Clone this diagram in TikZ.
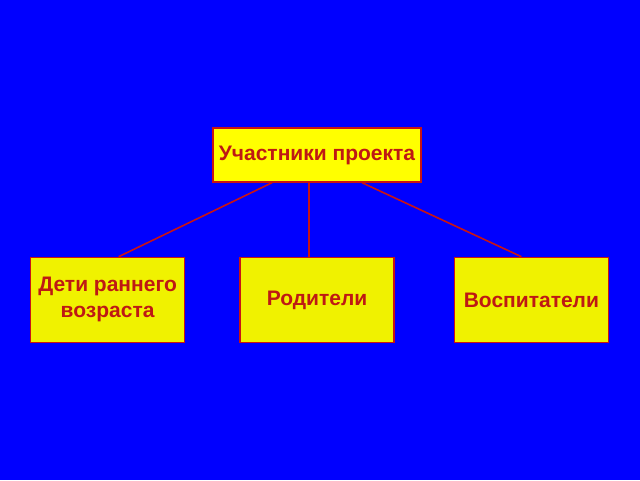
\documentclass[tikz,border=0pt]{standalone}
\usepackage{fontspec}
\setmainfont{Liberation Sans}
\usetikzlibrary{positioning}
\definecolor{bgblue}{RGB}{0,0,255}
\definecolor{boxyellow}{RGB}{255,255,0}
\definecolor{lowyellow}{RGB}{240,242,0}
\definecolor{edgered}{RGB}{200,20,20}
\definecolor{textred}{RGB}{190,25,20}

\begin{document}
\begin{tikzpicture}
            [
            box/.style={rectangle, draw=edgered, line width=1.4pt, fill=#1,
                text=textred, font=\fontsize{21}{26}\selectfont\bfseries,
                align=center, minimum width=154pt, minimum height=85pt},
            link/.style={draw=edgered, line width=1.6pt}
            ]

            \fill [bgblue] (0pt,0pt) rectangle (640pt,-480pt);
            \useasboundingbox (0pt,0pt) rectangle (640pt,-480pt);

            \node (top) at (317pt,-155pt) [box=boxyellow, minimum width=208pt,
                minimum height=54pt] {Участники проекта};
            \node (parents) [below=74pt of top, box=lowyellow] {Родители};
            \node (kids) [left=54pt of parents, box=lowyellow] {Дети раннего\\ возраста};
            \node (teachers) [right=59pt of parents, box=lowyellow] {Воспитатели};

            % link ends on the box borders
            \coordinate (t1) at ([xshift=-45pt]top.south);
            \coordinate (t2) at ([xshift=-8pt]top.south);
            \coordinate (t3) at ([xshift=45pt]top.south);

            \draw [link] (t1) -- ([xshift=11pt]kids.north);
            \draw [link] (t2) -- ([xshift=-8pt]parents.north);
            \draw [link] (t3) -- ([xshift=-10pt]teachers.north);

        \end{tikzpicture}
\end{document}
